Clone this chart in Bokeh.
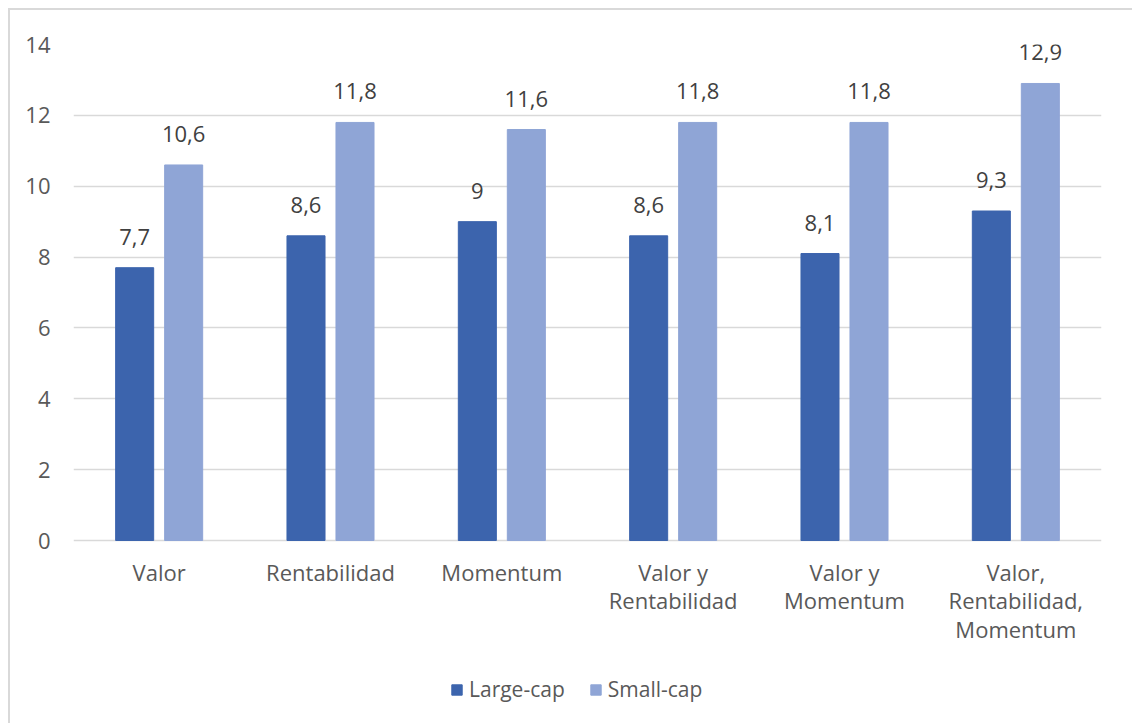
from bokeh.plotting import figure
from bokeh.models import ColumnDataSource, FixedTicker, Legend, LegendItem, Range1d
from bokeh.core.properties import value
from bokeh.embed import file_html
from bokeh.resources import INLINE

categories = ["Valor", "Rentabilidad", "Momentum", "Valor y\nRentabilidad",
              "Valor y\nMomentum", "Valor,\nRentabilidad,\nMomentum"]
large_cap = [7.7, 8.6, 9.0, 8.6, 8.1, 9.3]
small_cap = [10.6, 11.8, 11.6, 11.8, 11.8, 12.9]
y_ticks = [0, 2, 4, 6, 8, 10, 12, 14]

FONT = "Open Sans"
LARGE_COLOR = "#3C64AD"
SMALL_COLOR = "#8FA5D6"

def fmt(v):
    s = f"{v:g}"
    return s.replace(".", ",")

centers = [i + 0.5 for i in range(len(categories))]
off = 0.143
bw = 0.222

src_l = ColumnDataSource(dict(x=[c - off for c in centers], top=large_cap,
                              lab=[fmt(v) for v in large_cap]))
src_s = ColumnDataSource(dict(x=[c + off for c in centers], top=small_cap,
                              lab=[fmt(v) for v in small_cap]))
src_c = ColumnDataSource(dict(x=centers, y=[0] * len(centers), lab=categories))

# frame: 496 px for 0..14, plus 178 px of room below 0 for the category labels and legend
px_per_unit = 496 / 14
p = figure(frame_width=1028, frame_height=674, output_backend="svg", toolbar_location=None,
           x_range=Range1d(0, len(categories)), y_range=Range1d(-178 / px_per_unit, 14),
           min_border_left=63, min_border_right=31, min_border_top=34, min_border_bottom=5)
p.outline_line_color = None
p.background_fill_color = "white"
p.border_fill_color = "white"
p.styles = {"margin-left": "8px", "margin-top": "8px",
            "border-left": "2px solid #D9D9D9", "border-top": "2px solid #D9D9D9"}

r_l = p.vbar(x="x", top="top", width=bw, source=src_l, fill_color=LARGE_COLOR, line_color=LARGE_COLOR)
r_s = p.vbar(x="x", top="top", width=bw, source=src_s, fill_color=SMALL_COLOR, line_color=SMALL_COLOR)

for src in (src_l, src_s):
    p.text(x="x", y="top", text="lab", source=src, text_align="center", text_baseline="bottom",
           y_offset=-23, text_font=value(FONT), text_font_size="22px", text_color="#404040")

# category labels under the baseline
p.text(x="x", y="y", text="lab", source=src_c, text_align="center", text_baseline="top",
       y_offset=16, text_font=value(FONT), text_font_size="22px", text_color="#595959",
       text_line_height=0.95)

p.xgrid.grid_line_color = None
p.ygrid.grid_line_color = "#D9D9D9"
p.ygrid.grid_line_width = 1.5
p.ygrid.ticker = FixedTicker(ticks=y_ticks)

p.yaxis.ticker = FixedTicker(ticks=y_ticks)
p.yaxis.axis_line_color = None
p.yaxis.major_tick_line_color = None
p.yaxis.minor_tick_line_color = None
p.yaxis.major_label_text_font = FONT
p.yaxis.major_label_text_font_size = "22px"
p.yaxis.major_label_text_color = "#595959"
p.yaxis.major_label_standoff = 17

p.xaxis.visible = False

legend = Legend(items=[LegendItem(label="Large-cap", renderers=[r_l]),
                       LegendItem(label="Small-cap", renderers=[r_s])],
                orientation="horizontal", location=(377, 15),
                label_text_font=FONT, label_text_font_size="21px", label_text_color="#595959",
                glyph_width=13, glyph_height=13, label_standoff=6, spacing=24,
                border_line_color=None, background_fill_alpha=0, margin=0, padding=4)
p.add_layout(legend)

open("out.html", "w").write(file_html(p, INLINE))
